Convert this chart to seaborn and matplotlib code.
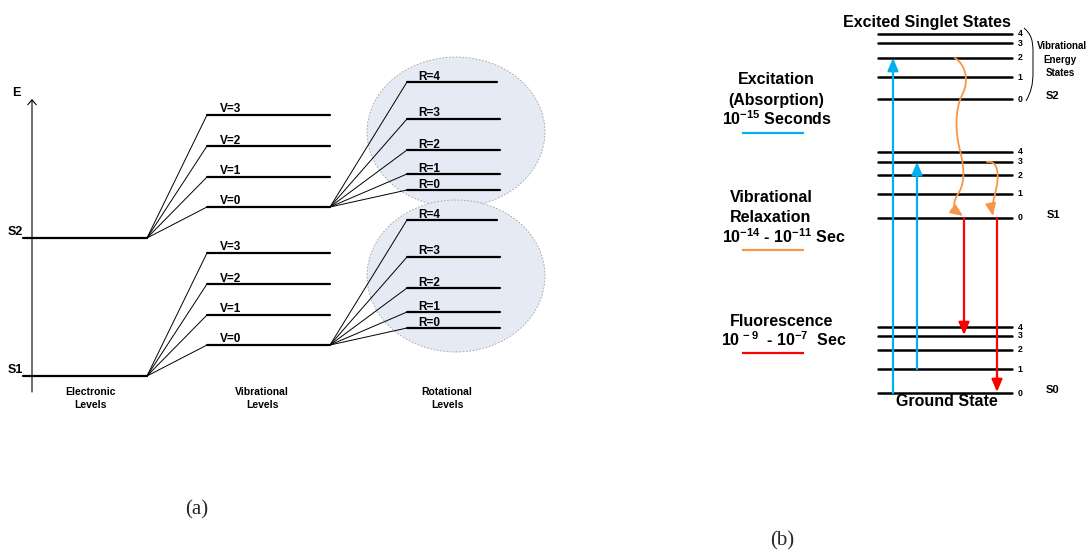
import numpy as np
import pandas as pd
import matplotlib
matplotlib.use("Agg")
import matplotlib.pyplot as plt
import seaborn as sns
from matplotlib.patches import Ellipse, FancyArrowPatch, PathPatch
from matplotlib.path import Path

# ---------------- data ----------------
# (a) energy-level hierarchy (energy units, increasing upward)
electronic_states = ["S2", "S1"]
electronic_energy = [314, 176]
vib_labels = ["V=0", "V=1", "V=2", "V=3"]
vib_offsets = [31, 61, 92, 123]
rot_labels = ["R=0", "R=1", "R=2", "R=3", "R=4"]
rot_offsets = [17, 33, 57, 88, 125]
level_titles = ["Electronic", "Vibrational", "Rotational"]

# (b) Jablonski diagram
jab_states = ["S2", "S1", "S0"]
jab_S2 = [453, 475, 494, 509, 518]
jab_S1 = [334, 358, 377, 390, 400]
jab_S0 = [159, 183, 202, 216, 225]
jab_numbers = ["0", "1", "2", "3", "4"]
absorption = [("S0", 0, "S2", 2), ("S0", 1, "S1", 3)]
fluorescence = [("S1", 0, "S0", 3), ("S1", 0, "S0", 0)]
relaxation = [("S2", 2, "S1", 0), ("S1", 3, "S1", 0)]
process_titles = [["Excitation", "(Absorption)", "10$^{-15}$ Seconds"],
                  ["Vibrational", "Relaxation", "10$^{-14}$ - 10$^{-11}$ Sec"],
                  ["Fluorescence", "10$^{\\,-9}$  - 10$^{-7}$  Sec"]]

# ---------------- style ----------------
sns.set_theme(style="white")
FONT = "Liberation Sans"
plt.rcParams["font.family"] = [FONT, "DejaVu Sans"]
plt.rcParams["mathtext.fontset"] = "custom"
plt.rcParams["mathtext.rm"] = "Liberation Sans:bold"
plt.rcParams["mathtext.it"] = "Liberation Sans:bold"
plt.rcParams["mathtext.bf"] = "Liberation Sans:bold"
plt.rcParams["mathtext.sf"] = "Liberation Sans:bold"

BLUE, ORANGE, RED = "#00b0f0", "#f79646", "#ff0000"

W, H = 1089, 552
fig = plt.figure(figsize=(W / 100, H / 100), dpi=100)
ax = fig.add_axes([0, 0, 1, 1])


def Y(py):
    return H - py


def label(x, y, s, size, **kw):
    kw.setdefault("ha", "center")
    kw.setdefault("va", "center")
    kw.setdefault("fontweight", "bold")
    ax.text(x, y, s, fontsize=size, family=[FONT, "DejaVu Sans"], color="black", **kw)


def frame():
    ax.set_xlim(0, W)
    ax.set_ylim(0, H)
    ax.axis("off")


frame()

# ---------------- panel (a) ----------------
x_el, x_vib, x_rot = (23, 147), (207, 330), (407, 500)
lev_rows, fan_rows = [], []
seg = 0
for st, e in zip(electronic_states, electronic_energy):
    lev_rows += [(x_el[0], e, seg), (x_el[1], e, seg)]
    seg += 1
    label(15, e + 6, st, 9)
    for vl, vo in zip(vib_labels, vib_offsets):
        ev = e + vo
        lev_rows += [(x_vib[0], ev, seg), (x_vib[1], ev, seg)]
        seg += 1
        fan_rows += [(x_el[1], e, seg), (x_vib[0], ev, seg)]
        seg += 1
        label(220, ev + 2.5, vl, 8.5, ha="left", va="baseline")
    e0 = e + vib_offsets[0]
    for rl, ro in zip(rot_labels, rot_offsets):
        er = e0 + ro
        lev_rows += [(x_rot[0], er, seg), (x_rot[1] - (3 if rl == "R=4" else 0), er, seg)]
        seg += 1
        fan_rows += [(x_vib[1], e0, seg), (x_rot[0], er, seg)]
        seg += 1
        label(418, er + 2.5, rl, 8.5, ha="left", va="baseline")
    ax.add_patch(Ellipse((456, e0 + (75 if st == "S2" else 69)), 178, 150 if st == "S2" else 152,
                         fc="#e5eaf5", ec="#a0a0a0", ls=(0, (2, 2)), lw=0.6, zorder=0))

lev_df = pd.DataFrame(lev_rows, columns=["x", "y", "seg"])
fan_df = pd.DataFrame(fan_rows, columns=["x", "y", "seg"])
sns.lineplot(data=lev_df, x="x", y="y", units="seg", estimator=None, sort=False,
             color="black", linewidth=1.6, ax=ax, legend=False)
sns.lineplot(data=fan_df, x="x", y="y", units="seg", estimator=None, sort=False,
             color="black", linewidth=0.7, ax=ax, legend=False)
frame()

# energy axis
ax.add_patch(FancyArrowPatch((32, Y(392)), (32, Y(99)), arrowstyle="->,head_length=0.35,head_width=0.3",
                             mutation_scale=10, lw=0.8, color="black", shrinkA=0, shrinkB=0))
label(16, Y(93), "E", 9)

for xc, t in zip([90, 262, 447], level_titles):
    label(xc, Y(392), t, 7.5)
    label(xc, Y(405), "Levels", 7.5)

# ---------------- panel (b) ----------------
jab = {"S2": jab_S2, "S1": jab_S1, "S0": jab_S0}
xb = (878, 1012)
jrows = []
seg = 0
for st in jab_states:
    for num, e in zip(jab_numbers, jab[st]):
        jrows += [(xb[0], e, seg), (xb[1], e, seg)]
        seg += 1
        label(1020, e, num, 6.3)
    label(1053, jab[st][0] + 3, st, 8)
jdf = pd.DataFrame(jrows, columns=["x", "y", "seg"])
sns.lineplot(data=jdf, x="x", y="y", units="seg", estimator=None, sort=False,
             color="black", linewidth=1.8, ax=ax, legend=False)
frame()

HEAD = "-|>,head_length=0.75,head_width=0.32"


def straight_arrow(x, y0, y1, color):
    ax.add_patch(FancyArrowPatch((x, y0), (x, y1), arrowstyle=HEAD, mutation_scale=10, lw=1.6,
                                 color=color, shrinkA=0, shrinkB=0, zorder=3))


for (s0, v0, s1, v1), x in zip(absorption, [893, 917]):
    straight_arrow(x, jab[s0][v0], jab[s1][v1], BLUE)
for (s0, v0, s1, v1), x in zip(fluorescence, [964, 997]):
    straight_arrow(x, jab[s0][v0], jab[s1][v1] + 1, RED)

# wavy vibrational relaxation arrows (shape control relative to start/end)
wave_shapes = [
    [(0, 0), (10, 0.04), (15, 0.14), (7, 0.235), (0, 0.33), (0, 0.46), (5, 0.585),
     (10, 0.71), (10, 0.80), (2, 0.87), (-3, 0.93), (-1, 0.96), (8, 1.0)],
    [(0, 0), (10, -0.04), (12, 0.2), (10, 0.42), (8, 0.64), (4, 0.8), (6, 1.0)],
]
for (s0, v0, s1, v1), x, shape in zip(relaxation, [955, 987], wave_shapes):
    ya, yb = jab[s0][v0], jab[s1][v1] + 2
    verts = [(x + dx, ya + f * (yb - ya)) for dx, f in shape]
    codes = [Path.MOVETO] + [Path.CURVE4] * (len(verts) - 1)
    ax.add_patch(FancyArrowPatch(path=Path(verts, codes), arrowstyle=HEAD,
                                 mutation_scale=10, lw=1.3, color=ORANGE, zorder=3))

# brace for vibrational energy states
bverts = [(1024, Y(28)), (1031, Y(34)), (1033, Y(40)), (1033, Y(52)), (1033, Y(72)),
          (1033, Y(85)), (1031, Y(92)), (1026, Y(101))]
bcodes = [Path.MOVETO, Path.CURVE4, Path.CURVE4, Path.CURVE4, Path.LINETO,
          Path.CURVE4, Path.CURVE4, Path.CURVE4]
ax.add_patch(PathPatch(Path(bverts, bcodes), fc="none", ec="black", lw=0.7))
label(1062, Y(46), "Vibrational", 7)
label(1060, Y(60), "Energy", 7)
label(1060, Y(73), "States", 7)

label(927, Y(22), "Excited Singlet States", 11.5)
label(947, Y(402), "Ground State", 11.5)

# process descriptions with colour keys
title_pos = [[(776, 80), (776, 100), (777, 119)],
             [(771, 198), (771, 217), (784, 237)],
             [(782, 322), (784, 340)]]
key_y = [133, 250, 353]
for lines, poss, ky, col in zip(process_titles, title_pos, key_y, [BLUE, ORANGE, RED]):
    for t, (px, py) in zip(lines, poss):
        label(px, Y(py), t, 11.5)
    ax.plot([742, 804], [Y(ky), Y(ky)], color=col, lw=1.6, solid_capstyle="butt")

# captions
ax.text(197, Y(510), "(a)", fontsize=15, family=["Liberation Serif"], ha="center", va="center")
ax.text(782, Y(541), "(b)", fontsize=15, family=["Liberation Serif"], ha="center", va="center")

frame()
fig.savefig("out.png", dpi=100)
